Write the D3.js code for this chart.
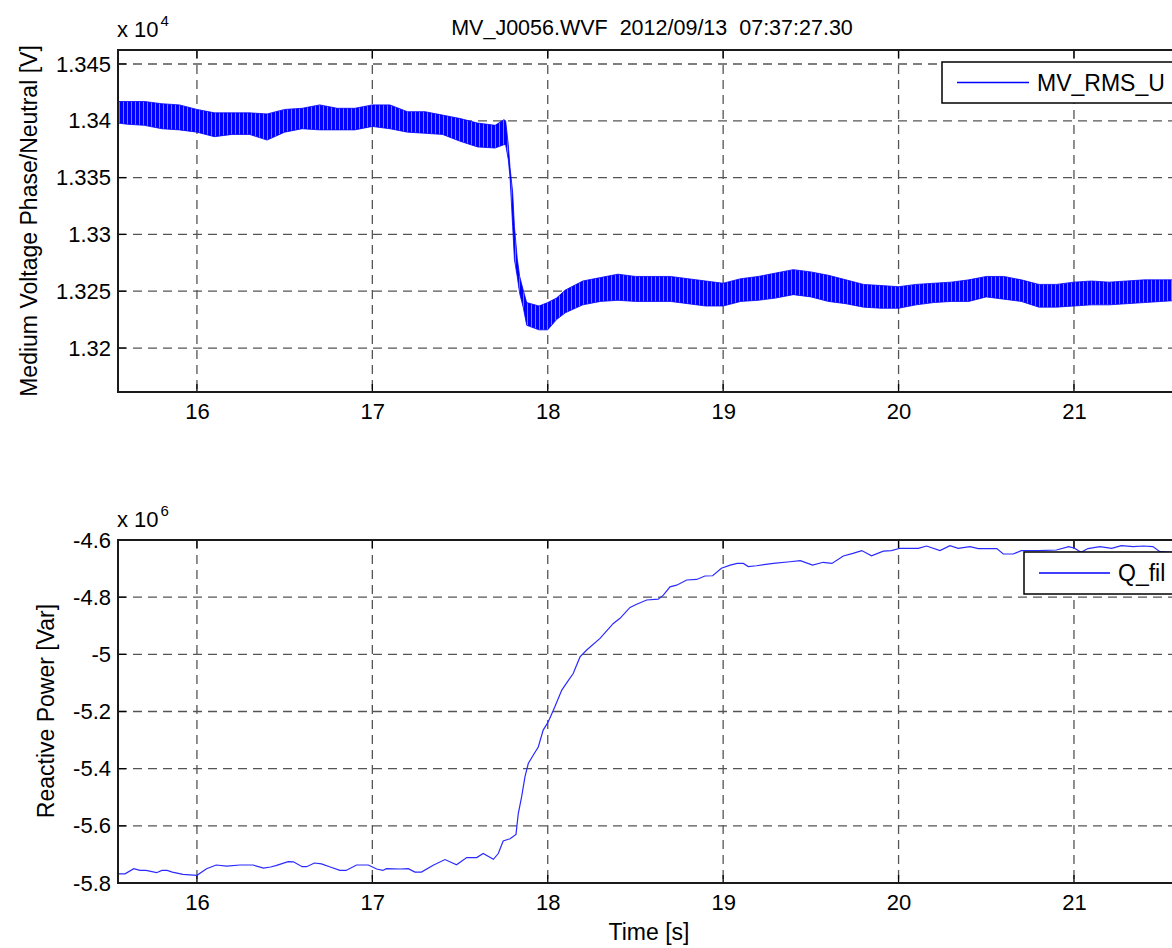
<!DOCTYPE html>
<html>
<head>
<meta charset="utf-8">
<script src="https://cdnjs.cloudflare.com/ajax/libs/d3/7.8.5/d3.min.js"></script>
<style>
  body { margin: 0; background: #fff; }
  text { font-family: "Liberation Sans", Arial, sans-serif; fill: #000; }
</style>
</head>
<body>
<div id="chart"></div>
<script>
// ---- data ----
// top: RMS voltage band (upper / lower envelope of the ripple), volts
var voltTime = [15.55,15.6,15.7,15.8,15.9,16.0,16.1,16.2,16.3,16.4,16.5,16.6,16.7,16.8,16.9,17.0,17.1,17.2,17.3,17.4,17.5,17.6,17.7,17.75,
  17.76,17.775,17.785,17.8,17.81,17.826,17.84,17.86,17.88,17.95,18.0,18.05,18.1,
  18.2,18.3,18.4,18.5,18.6,18.7,18.8,18.9,19.0,19.1,19.2,19.3,19.4,19.5,19.6,19.7,19.8,19.9,20.0,20.1,20.2,20.3,20.4,20.5,20.6,20.7,20.8,20.9,21.0,21.1,21.2,21.3,21.4,21.5,21.6];
var voltHigh = [13417,13417,13417,13415,13414,13410,13407,13407,13407,13406,13410,13411,13414,13411,13411,13414,13414,13408,13408,13405,13402,13398,13396,13401,
  13400,13379,13359,13337,13307,13279,13263,13251,13240,13237,13240,13244,13251,
  13259,13262,13265,13263,13263,13263,13261,13259,13257,13261,13263,13266,13269,13267,13264,13260,13256,13255,13254,13256,13257,13258,13260,13263,13263,13260,13256,13256,13258,13259,13258,13259,13260,13260,13260];
var voltLow = [13398,13397,13396,13393,13392,13390,13386,13388,13388,13383,13390,13393,13392,13392,13392,13395,13393,13390,13389,13388,13382,13377,13376,13379,
  13379,13366,13350,13307,13278,13263,13248,13236,13220,13216,13216,13225,13231,
  13238,13241,13242,13241,13241,13241,13239,13237,13237,13241,13242,13244,13247,13245,13241,13239,13236,13235,13235,13238,13240,13241,13241,13245,13243,13241,13236,13236,13237,13238,13238,13239,13240,13241,13242];

// bottom: filtered reactive power, in units of 1e6 Var
var qTime = [15.55,15.59,15.64,15.675,15.71,15.77,15.8,15.83,15.86,15.92,16.0,16.055,16.11,16.17,16.245,16.32,16.38,16.42,16.45,16.52,16.55,16.6,16.625,16.67,16.71,16.76,16.815,16.85,16.91,16.977,
  17.025,17.06,17.08,17.16,17.205,17.243,17.28,17.347,17.414,17.48,17.538,17.595,17.632,17.69,17.718,17.746,17.785,17.819,17.832,17.851,17.87,17.889,17.917,17.946,17.974,
  18.003,18.04,18.08,18.108,18.145,18.184,18.222,18.298,18.374,18.412,18.469,18.507,18.564,18.63,18.659,18.697,18.735,18.792,18.849,18.896,18.94,18.99,
  19.04,19.08,19.115,19.143,19.19,19.286,19.38,19.44,19.51,19.57,19.62,19.685,19.74,19.79,19.846,19.913,19.96,
  20.008,20.112,20.16,20.236,20.293,20.34,20.407,20.455,20.56,20.597,20.654,20.7,20.797,20.9,20.97,
  21.004,21.04,21.08,21.148,21.215,21.27,21.338,21.395,21.45,21.49,21.6];
var qMvar = [-5.768,-5.768,-5.750,-5.756,-5.756,-5.764,-5.756,-5.756,-5.762,-5.770,-5.773,-5.750,-5.737,-5.741,-5.737,-5.737,-5.748,-5.744,-5.739,-5.725,-5.726,-5.743,-5.743,-5.730,-5.733,-5.744,-5.756,-5.756,-5.737,-5.737,
  -5.751,-5.756,-5.750,-5.751,-5.750,-5.762,-5.762,-5.738,-5.718,-5.736,-5.711,-5.711,-5.697,-5.717,-5.697,-5.653,-5.645,-5.630,-5.557,-5.499,-5.429,-5.382,-5.353,-5.324,-5.265,
  -5.236,-5.184,-5.125,-5.100,-5.067,-5.009,-4.985,-4.944,-4.892,-4.874,-4.836,-4.825,-4.810,-4.807,-4.793,-4.764,-4.758,-4.740,-4.738,-4.726,-4.725,-4.699,
  -4.688,-4.682,-4.682,-4.693,-4.690,-4.682,-4.676,-4.672,-4.688,-4.678,-4.682,-4.656,-4.647,-4.637,-4.655,-4.639,-4.637,
  -4.629,-4.629,-4.621,-4.637,-4.620,-4.629,-4.623,-4.630,-4.630,-4.649,-4.649,-4.637,-4.637,-4.635,-4.623,
  -4.629,-4.643,-4.630,-4.623,-4.629,-4.620,-4.623,-4.621,-4.623,-4.641,-4.645];

// tick labels
var timeTicks = [16, 17, 18, 19, 20, 21];
var voltTicks = [1.32, 1.325, 1.33, 1.335, 1.34, 1.345];   // x 10^4
var qTicks = [-5.8, -5.6, -5.4, -5.2, -5, -4.8, -4.6];     // x 10^6

var W = 1172, H = 948;
var tickFs = 22, labelFs = 23, titleFs = 21.5;

var svg = d3.select("#chart")
  .append("svg")
    .attr("width", W)
    .attr("height", H)
    .style("background", "#fff");

// hatch so the ripple band keeps its streaky look
var defs = svg.append("defs");
var pat = defs.append("pattern")
    .attr("id", "ripple")
    .attr("patternUnits", "userSpaceOnUse")
    .attr("width", 4).attr("height", 20);
pat.append("rect").attr("width", 4).attr("height", 20).attr("fill", "#0000ff");
pat.append("rect").attr("x", 3).attr("width", 1).attr("height", 20).attr("fill", "#7878ff");

var left = 118, right = 1185;
var x = d3.scaleLinear().domain([15.55, 21.633]).range([left, right]);

// draws dashed grid, inward ticks and tick labels for one panel
function panel(top, bottom, y, yTicks, yFmt) {
  var g = svg.append("g");
  var dash = "9,6";

  g.selectAll(".vg").data(timeTicks).enter().append("line")
    .attr("x1", d => x(d)).attr("x2", d => x(d))
    .attr("y1", top).attr("y2", bottom)
    .attr("stroke", "#555").attr("stroke-width", 1.3)
    .attr("stroke-dasharray", dash);
  g.selectAll(".hg").data(yTicks).enter().append("line")
    .attr("x1", left).attr("x2", right)
    .attr("y1", d => y(d)).attr("y2", d => y(d))
    .attr("stroke", "#555").attr("stroke-width", 1.3)
    .attr("stroke-dasharray", dash);

  // inward ticks on all sides
  g.selectAll(".tb").data(timeTicks).enter().append("line")
    .attr("x1", d => x(d)).attr("x2", d => x(d))
    .attr("y1", bottom).attr("y2", bottom - 8)
    .attr("stroke", "#000").attr("stroke-width", 1.3);
  g.selectAll(".tt").data(timeTicks).enter().append("line")
    .attr("x1", d => x(d)).attr("x2", d => x(d))
    .attr("y1", top).attr("y2", top + 8)
    .attr("stroke", "#000").attr("stroke-width", 1.3);
  g.selectAll(".tl").data(yTicks).enter().append("line")
    .attr("x1", left).attr("x2", left + 8)
    .attr("y1", d => y(d)).attr("y2", d => y(d))
    .attr("stroke", "#000").attr("stroke-width", 1.3);

  // x axis labels
  var xa = g.append("g")
    .attr("transform", "translate(0," + bottom + ")")
    .call(d3.axisBottom(x).tickValues(timeTicks).tickSize(0).tickPadding(11).tickFormat(d3.format("d")));
  xa.select(".domain").remove();
  xa.selectAll("text").style("font-size", tickFs + "px").attr("fill", "#000");

  // y axis labels
  var ya = g.append("g")
    .attr("transform", "translate(" + left + ",0)")
    .call(d3.axisLeft(y).tickValues(yTicks).tickSize(0).tickPadding(7).tickFormat(yFmt));
  ya.select(".domain").remove();
  ya.selectAll("text").style("font-size", tickFs + "px").attr("fill", "#000");

  return g;
}

function frame(top, bottom) {
  svg.append("rect")
    .attr("x", left).attr("y", top)
    .attr("width", right - left).attr("height", bottom - top)
    .attr("fill", "none").attr("stroke", "#1a1a1a").attr("stroke-width", 2);
}

// ---- top panel ----
var t1 = 50, b1 = 392;
var yV = d3.scaleLinear().domain([13161.3, 13462.3]).range([b1, t1]);
panel(t1, b1, yV, voltTicks.map(d => d * 1e4), d => d3.format("~g")(d / 1e4));

defs.append("clipPath").attr("id", "clip1")
  .append("rect").attr("x", left).attr("y", t1).attr("width", right - left).attr("height", b1 - t1);

var band = voltTime.map((t, i) => ({t: t, hi: voltHigh[i], lo: voltLow[i]}));
svg.append("path")
  .datum(band)
  .attr("clip-path", "url(#clip1)")
  .attr("fill", "url(#ripple)")
  .attr("stroke", "#0000ff")
  .attr("stroke-width", 0.8)
  .attr("d", d3.area()
    .x(d => x(d.t))
    .y0(d => yV(d.lo))
    .y1(d => yV(d.hi)));
frame(t1, b1);

// ---- bottom panel ----
var t2 = 540, b2 = 883;
var yQ = d3.scaleLinear().domain([-5.8, -4.6]).range([b2, t2]);
panel(t2, b2, yQ, qTicks, d => String(+d.toFixed(1)));

defs.append("clipPath").attr("id", "clip2")
  .append("rect").attr("x", left).attr("y", t2).attr("width", right - left).attr("height", b2 - t2);

var qData = qTime.map((t, i) => ({t: t, v: qMvar[i]}));
svg.append("path")
  .datum(qData)
  .attr("clip-path", "url(#clip2)")
  .attr("fill", "none")
  .attr("stroke", "#2a2aff")
  .attr("stroke-width", 1.2)
  .attr("d", d3.line().x(d => x(d.t)).y(d => yQ(d.v)));
frame(t2, b2);

// ---- legends ----
function legend(lx, ly, h, label, lineLen) {
  var g = svg.append("g");
  g.append("rect")
    .attr("x", lx).attr("y", ly).attr("width", 260).attr("height", h)
    .attr("fill", "#fff").attr("stroke", "#000").attr("stroke-width", 1.5);
  g.append("line")
    .attr("x1", lx + 15).attr("x2", lx + 15 + lineLen)
    .attr("y1", ly + h / 2).attr("y2", ly + h / 2)
    .attr("stroke", "#0000ff").attr("stroke-width", 1.3);
  g.append("text")
    .attr("x", lx + 15 + lineLen + 8).attr("y", ly + h / 2 + 8)
    .style("font-size", labelFs + "px")
    .text(label);
}
legend(942, 62, 41, "MV_RMS_U", 72);
legend(1024, 552, 42, "Q_fil", 71);

// ---- titles and labels ----
svg.append("text")
  .attr("x", 652).attr("y", 35)
  .attr("text-anchor", "middle")
  .style("font-size", titleFs + "px")
  .style("white-space", "pre")
  .text("MV_J0056.WVF  2012/09/13  07:37:27.30");

function expo(xp, yp, e) {
  var t = svg.append("text").attr("x", xp).attr("y", yp).style("font-size", tickFs + "px");
  t.append("tspan").text("x 10");
  t.append("tspan").attr("dx", 2).attr("dy", -11).style("font-size", "15px").text(e);
}
expo(117, 37, "4");
expo(117, 527, "6");

svg.append("text")
  .attr("transform", "translate(37,221) rotate(-90)")
  .attr("text-anchor", "middle")
  .style("font-size", labelFs + "px")
  .text("Medium Voltage Phase/Neutral [V]");

svg.append("text")
  .attr("transform", "translate(54,711) rotate(-90)")
  .attr("text-anchor", "middle")
  .style("font-size", labelFs + "px")
  .text("Reactive Power [Var]");

svg.append("text")
  .attr("x", 649).attr("y", 940)
  .attr("text-anchor", "middle")
  .style("font-size", labelFs + "px")
  .text("Time [s]");
</script>
</body>
</html>
